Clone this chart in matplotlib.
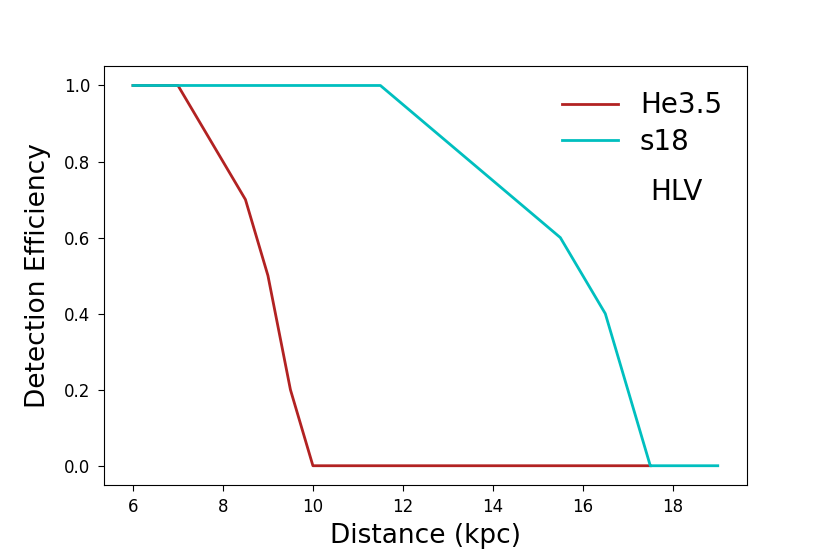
import numpy as np
import matplotlib
matplotlib.use("Agg")
import matplotlib.pyplot as plt

# distance (kpc) vs detection efficiency
dist_he = [6, 7, 8.5, 9, 9.5, 10, 17.5]
eff_he = [1.0, 1.0, 0.7, 0.5, 0.2, 0.0, 0.0]

dist_s18 = [6, 11.5, 15.5, 16.5, 17.5, 19]
eff_s18 = [1.0, 1.0, 0.6, 0.4, 0.0, 0.0]

fig, ax = plt.subplots(figsize=(8.3, 5.54), dpi=100)
fig.subplots_adjust(left=0.125, right=0.9, top=0.88, bottom=0.125)

ax.plot(dist_he, eff_he, color='firebrick', lw=2, label='He3.5')
ax.plot(dist_s18, eff_s18, color='c', lw=2, label='s18')

ax.text(17.5, 0.7, 'HLV', fontsize=20)
ax.set_xlabel('Distance (kpc)', fontsize=19, labelpad=5)
ax.set_ylabel('Detection Efficiency', fontsize=19, labelpad=9)
ax.tick_params(labelsize=12, length=4.6, pad=5.3)
ax.legend(frameon=False, fontsize=20, loc='upper right', labelspacing=0.3)

fig.savefig('out.png')
